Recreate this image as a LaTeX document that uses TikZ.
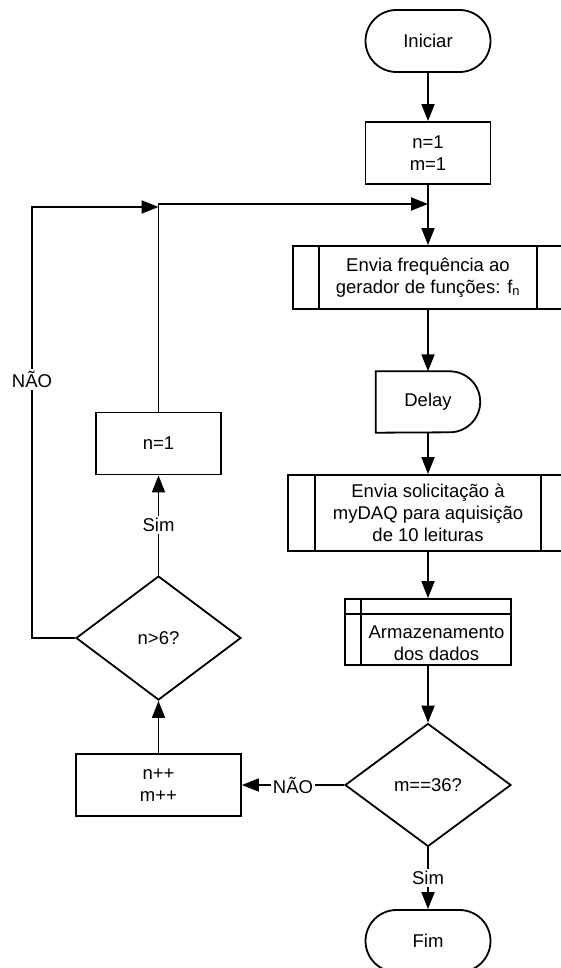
\documentclass[tikz,border=0pt]{standalone}
\usepackage{fontspec}
\setmainfont{Liberation Sans}
\usetikzlibrary{shapes.geometric,arrows.meta}

\begin{document}
\begin{tikzpicture}[x=1pt,y=-1pt,
  every node/.style={font=\fontsize{18.5}{22}\selectfont,align=center},
  lnk/.style={line width=1.8pt},
  arr/.style={lnk,-{Triangle[length=17pt,width=13pt]}},
  term/.style={draw,line width=1.8pt,rounded corners=31pt,minimum width=125pt,minimum height=62pt},
  proc/.style={draw,line width=1.8pt,minimum width=125pt,minimum height=62pt},
  dec/.style={draw,line width=1.8pt,diamond,minimum width=166pt,minimum height=123pt,inner sep=0pt},
  lbl/.style={fill=white,inner sep=2pt}]
  \useasboundingbox (0,0) rectangle (560,968);
  \node[term] (ini) at (428,41) {Iniciar};
  \node[proc] (init) at (428,153) {n=1\\m=1};
  \coordinate (j1) at (428,204);
  \node[proc,minimum width=270pt,minimum height=63pt] (env) at (428,277.5) {Envia frequência ao\\gerador de funções: f\textsubscript{n}};
  \draw[lnk] ([xshift=27pt]env.north west)--([xshift=27pt]env.south west);
  \draw[lnk] ([xshift=-27pt]env.north east)--([xshift=-27pt]env.south east);
  \node[minimum width=104pt,minimum height=61pt] (delay) at (428,402) {Delay};
  \draw[lnk] (delay.south west)--(delay.north west)--([xshift=-30.5pt]delay.north east) arc[start angle=90,end angle=-90,radius=30.5pt]--cycle;
  \node[proc,minimum width=280pt,minimum height=76pt] (sol) at (428,513) {Envia solicitação à\\myDAQ para aquisição\\de 10 leituras};
  \draw[lnk] ([xshift=28pt]sol.north west)--([xshift=28pt]sol.south west);
  \draw[lnk] ([xshift=-28pt]sol.north east)--([xshift=-28pt]sol.south east);
  \node[proc,minimum width=166pt,minimum height=66pt] (arm) at (428,632) {};
  \draw[lnk] ([yshift=-16pt]arm.north west)--([yshift=-16pt]arm.north east);
  \draw[lnk] ([xshift=17pt]arm.north west)--([xshift=17pt]arm.south west);
  \node (armtxt) at (436.5,643) {Armazenamento\\dos dados};
  \node[dec] (m36) at (428,785) {m==36?};
  \node[term] (fim) at (428,941) {Fim};
  \node[proc,minimum width=165pt] (inc) at (158.5,785) {n++\\m++};
  \node[dec,minimum width=165pt,minimum height=124pt] (n6) at (158.5,638) {n>6?};
  \node[proc] (n1) at (158.5,443.5) {n=1};
  \coordinate (j2) at (158.5,207);
  \coordinate (c1) at (32,638);
  \coordinate (c2) at (32,207);

  \draw[arr] (ini)--(init);
  \draw[arr] (init)--(env);
  \draw[arr] (n1)|-(j1);
  \draw[arr] (env)--(delay);
  \draw[arr] (delay)--(sol);
  \draw[arr] (sol)--(arm);
  \draw[arr] (arm)--(m36);
  \draw[arr] (m36)--node[lbl]{Sim}(fim);
  \draw[arr] (m36)--node[lbl]{NÃO}(inc);
  \draw[arr] (inc)--(n6);
  \draw[arr] (n6)--node[lbl]{Sim}(n1);
  \draw[arr] (n6.west)--(c1)--node[lbl,pos=0.6]{NÃO}(c2)--(j2);
\end{tikzpicture}
\end{document}
